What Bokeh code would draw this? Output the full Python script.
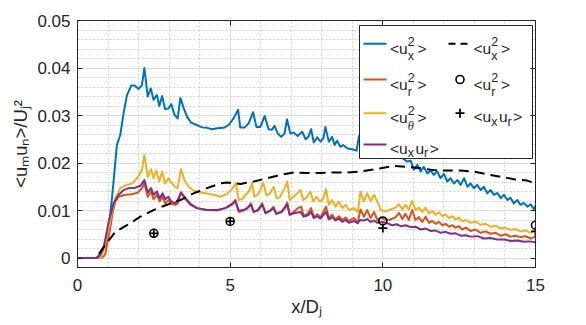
from bokeh.plotting import figure
from bokeh.models import Range1d, FixedTicker, LinearAxis
from bokeh.core.properties import value
from bokeh.embed import file_html
from bokeh.resources import INLINE

# ---------------- data ----------------
x_uxx = [0, 0.6, 0.7, 0.8, 0.96, 1.05, 1.13, 1.24, 1.29, 1.40, 1.51, 1.62, 1.76, 1.87, 2.0, 2.11,
         2.19, 2.30, 2.40, 2.49, 2.60, 2.68, 2.77, 2.87, 2.98, 3.07, 3.18, 3.28, 3.37, 3.48, 3.59,
         3.72, 3.91, 4.08, 4.24, 4.41, 4.57, 4.79, 4.95, 5.11, 5.26, 5.33, 5.48, 5.61, 5.75, 5.86,
         5.99, 6.13, 6.26, 6.37, 6.45, 6.56, 6.67, 6.78, 6.86, 6.97, 7.08, 7.21, 7.36, 7.47, 7.56,
         7.65, 7.74, 7.85, 7.96, 8.05, 8.12, 8.23, 8.34, 8.42, 8.50, 8.61, 8.70, 8.83, 9.0, 9.14,
         9.22, 9.4, 9.7, 10.0, 10.3, 10.6, 10.8, 10.91, 11.02, 11.13, 11.24, 11.34, 11.46, 11.56,
         11.67, 11.78, 11.89, 12.0, 12.11, 12.22, 12.33, 12.44, 12.55, 12.66, 12.77, 12.87, 12.98,
         13.09, 13.2, 13.31, 13.42, 13.53, 13.64, 13.75, 13.86, 13.97, 14.08, 14.18, 14.29, 14.4,
         14.51, 14.62, 14.73, 14.84, 14.95, 15.0]
y_uxx = [0, 0, 0.0005, 0.0017, 0.0034, 0.008, 0.0126, 0.0203, 0.0238, 0.0259, 0.0305, 0.0343,
         0.0363, 0.0363, 0.0356, 0.0364, 0.0400, 0.0340, 0.0357, 0.0333, 0.0343, 0.0320, 0.0341,
         0.0313, 0.0315, 0.0324, 0.0301, 0.0294, 0.0337, 0.0315, 0.0297, 0.0285, 0.0280, 0.0275,
         0.0274, 0.0271, 0.0273, 0.0274, 0.0280, 0.0294, 0.0312, 0.0275, 0.0275, 0.0284, 0.0307,
         0.0276, 0.0276, 0.0299, 0.0271, 0.0270, 0.0278, 0.0262, 0.0255, 0.0262, 0.0292, 0.0262,
         0.0264, 0.0257, 0.0266, 0.0250, 0.0255, 0.0271, 0.0243, 0.0254, 0.0245, 0.0252, 0.0276,
         0.0245, 0.0255, 0.0238, 0.0247, 0.0234, 0.0238, 0.0231, 0.0229, 0.0226, 0.0257, 0.0245,
         0.0238, 0.0232, 0.0222, 0.0212, 0.0203, 0.0205, 0.0186, 0.0196, 0.0182, 0.0192, 0.0178,
         0.0185, 0.0175, 0.0182, 0.0168, 0.0177, 0.0161, 0.0168, 0.0157, 0.0164, 0.0154, 0.0168,
         0.0150, 0.0157, 0.0147, 0.0154, 0.0143, 0.0150, 0.0136, 0.0143, 0.0133, 0.0137, 0.0126,
         0.0133, 0.0122, 0.0127, 0.0115, 0.0122, 0.0112, 0.0116, 0.0108, 0.0113, 0.0103, 0.0110]

x_urr = [0, 0.75, 0.85, 0.91, 1.0, 1.07, 1.15, 1.24, 1.35, 1.56, 1.78, 1.98, 2.11, 2.19, 2.3, 2.41,
         2.49, 2.6, 2.69, 2.79, 2.87, 2.98, 3.07, 3.2, 3.28, 3.39, 3.5, 3.7, 3.91, 4.24, 4.57, 4.84,
         5.06, 5.17, 5.28, 5.44, 5.55, 5.68, 5.77, 5.9, 6.05, 6.16, 6.3, 6.42, 6.51, 6.7, 6.87,
         6.95, 7.08, 7.21, 7.33, 7.41, 7.55, 7.65, 7.74, 7.85, 7.96, 8.14, 8.23, 8.34, 8.45, 8.56,
         8.67, 8.78, 8.89, 9.05, 9.18, 9.27, 9.38, 9.49, 9.6, 9.71, 9.82, 9.95, 10.09, 10.25,
         10.42, 10.53, 10.64, 10.74, 10.85, 10.96, 11.07, 11.18, 11.29, 11.4, 11.51, 11.62, 11.73,
         11.84, 11.95, 12.06, 12.17, 12.28, 12.38, 12.49, 12.6, 12.73, 12.87, 13.03, 13.2, 13.36,
         13.53, 13.69, 13.86, 14.02, 14.18, 14.35, 14.51, 14.67, 14.84, 15.0]
y_urr = [0, 0, 0.0003, 0.0008, 0.004, 0.0062, 0.0095, 0.0119, 0.0129, 0.0133, 0.0134, 0.0138,
         0.0147, 0.0157, 0.0129, 0.0140, 0.0124, 0.0133, 0.0119, 0.0129, 0.0115, 0.0122, 0.0114,
         0.0112, 0.0115, 0.0138, 0.0126, 0.0112, 0.0105, 0.0101, 0.0100, 0.0105, 0.0112, 0.0119,
         0.0097, 0.0100, 0.0105, 0.0115, 0.0097, 0.0101, 0.0115, 0.0094, 0.0099, 0.0108, 0.0093,
         0.0098, 0.0117, 0.0091, 0.0097, 0.0105, 0.0108, 0.0088, 0.0094, 0.0105, 0.0086, 0.0092,
         0.0086, 0.0108, 0.0084, 0.0091, 0.0081, 0.0088, 0.0080, 0.0085, 0.0078, 0.0084, 0.0076,
         0.0102, 0.0087, 0.0101, 0.0084, 0.0097, 0.0080, 0.0085, 0.0080, 0.0081, 0.0086, 0.0095,
         0.0082, 0.0093, 0.0080, 0.0101, 0.0080, 0.0086, 0.0076, 0.0087, 0.0074, 0.0078, 0.0072,
         0.0076, 0.0069, 0.0072, 0.0066, 0.0069, 0.0064, 0.0067, 0.0060, 0.0064, 0.0057, 0.0060,
         0.0053, 0.0056, 0.0051, 0.0053, 0.0047, 0.0050, 0.0045, 0.0047, 0.0044, 0.0046, 0.0041,
         0.0045]

x_utt = [0, 0.75, 0.8, 0.9, 1.02, 1.12, 1.24, 1.4, 1.62, 1.78, 1.95, 2.11, 2.19, 2.3, 2.41, 2.49,
         2.58, 2.68, 2.77, 2.87, 2.98, 3.07, 3.18, 3.28, 3.39, 3.5, 3.64, 3.8, 4.02, 4.24, 4.46,
         4.68, 4.9, 5.06, 5.19, 5.28, 5.39, 5.5, 5.61, 5.72, 5.79, 5.9, 5.99, 6.08, 6.19, 6.3,
         6.43, 6.52, 6.63, 6.75, 6.87, 6.95, 7.08, 7.19, 7.3, 7.39, 7.5, 7.63, 7.72, 7.83, 7.94,
         8.04, 8.14, 8.23, 8.34, 8.45, 8.56, 8.67, 8.78, 8.89, 9.05, 9.18, 9.27, 9.38, 9.49, 9.6,
         9.71, 9.82, 9.93, 10.09, 10.25, 10.42, 10.53, 10.64, 10.74, 10.85, 10.96, 11.07, 11.18,
         11.29, 11.4, 11.51, 11.62, 11.73, 11.84, 11.95, 12.06, 12.17, 12.28, 12.38, 12.49, 12.6,
         12.73, 12.87, 13.03, 13.2, 13.36, 13.53, 13.69, 13.86, 14.02, 14.18, 14.35, 14.51, 14.67,
         14.84, 15.0]
y_utt = [0, 0, 0.0006, 0.003, 0.0062, 0.0095, 0.0126, 0.0147, 0.0154, 0.0157, 0.0168, 0.0185,
         0.0217, 0.0171, 0.0187, 0.0168, 0.0184, 0.0161, 0.0182, 0.0157, 0.0168, 0.0159, 0.0150,
         0.0147, 0.0187, 0.0164, 0.0150, 0.0142, 0.0138, 0.0136, 0.0133, 0.0129, 0.0135, 0.0145,
         0.0157, 0.0122, 0.0124, 0.0133, 0.0140, 0.0157, 0.0129, 0.0133, 0.0143, 0.0159, 0.0131,
         0.0136, 0.0150, 0.0126, 0.0128, 0.0143, 0.0161, 0.0122, 0.0129, 0.0136, 0.0143, 0.0122,
         0.0127, 0.0140, 0.0119, 0.0129, 0.0119, 0.0124, 0.0145, 0.0112, 0.0122, 0.0108, 0.0119,
         0.0105, 0.0112, 0.0101, 0.0105, 0.0097, 0.0140, 0.0119, 0.0136, 0.0119, 0.0133, 0.0119,
         0.0101, 0.0098, 0.0102, 0.0106, 0.0113, 0.0102, 0.0112, 0.0102, 0.0120, 0.0101, 0.0106,
         0.0097, 0.0106, 0.0094, 0.0099, 0.0091, 0.0096, 0.0088, 0.0092, 0.0084, 0.0088, 0.0081,
         0.0085, 0.0077, 0.0080, 0.0074, 0.0077, 0.0070, 0.0072, 0.0066, 0.0068, 0.0062, 0.0064,
         0.0059, 0.0061, 0.0056, 0.0058, 0.0053, 0.0058]

x_uxr = [0, 0.65, 0.74, 0.85, 1.02, 1.18, 1.35, 1.51, 1.67, 1.89, 2.06, 2.19, 2.3, 2.41, 2.49, 2.6,
         2.69, 2.79, 2.87, 2.98, 3.07, 3.2, 3.28, 3.39, 3.5, 3.7, 3.91, 4.24, 4.57, 4.84, 5.06,
         5.17, 5.28, 5.44, 5.55, 5.68, 5.77, 5.9, 6.05, 6.16, 6.3, 6.42, 6.51, 6.7, 6.87, 6.95,
         7.08, 7.3, 7.41, 7.55, 7.65, 7.74, 7.85, 7.96, 8.14, 8.23, 8.34, 8.45, 8.56, 8.67, 8.78,
         8.89, 9.05, 9.18, 9.25, 9.38, 9.49, 9.6, 9.71, 9.82, 9.98, 10.15, 10.31, 10.45, 10.58,
         10.75, 10.91, 11.07, 11.24, 11.4, 11.56, 11.72, 11.89, 12.05, 12.22, 12.38, 12.55, 12.71,
         12.87, 13.1, 13.31, 13.53, 13.75, 13.97, 14.18, 14.4, 14.62, 14.8, 15.0]
y_uxr = [0, 0, 0.0006, 0.002, 0.0076, 0.0115, 0.0133, 0.0143, 0.0147, 0.0148, 0.0152, 0.0164,
         0.0138, 0.0147, 0.0133, 0.0140, 0.0126, 0.0136, 0.0124, 0.0129, 0.0119, 0.0115, 0.0122,
         0.0138, 0.0129, 0.0114, 0.0105, 0.0101, 0.0101, 0.0105, 0.0114, 0.0122, 0.0100, 0.0101,
         0.0104, 0.0112, 0.0097, 0.0100, 0.0112, 0.0095, 0.0099, 0.0105, 0.0093, 0.0098, 0.0112,
         0.0091, 0.0094, 0.0097, 0.0087, 0.0090, 0.0097, 0.0084, 0.0088, 0.0083, 0.0097, 0.0081,
         0.0086, 0.0079, 0.0083, 0.0076, 0.0080, 0.0074, 0.0078, 0.0073, 0.0080, 0.0079, 0.0082,
         0.0076, 0.0079, 0.0074, 0.0076, 0.0073, 0.0069, 0.0071, 0.0067, 0.0069, 0.0065, 0.0066,
         0.0060, 0.0062, 0.0057, 0.0058, 0.0053, 0.0055, 0.0051, 0.0052, 0.0047, 0.0048, 0.0045,
         0.0046, 0.0041, 0.0042, 0.0039, 0.0039, 0.0036, 0.0037, 0.0034, 0.0035, 0.0033]

x_uxx_ref = [0.7, 1.07, 1.24, 1.62, 2.06, 2.49, 2.93, 3.37, 3.8, 4.24, 4.68, 4.9, 5.33, 5.77, 6.21,
             6.65, 7.08, 7.52, 7.96, 8.39, 8.83, 9.27, 9.93, 10.37, 10.8, 11.24, 11.67, 12.11,
             12.55, 12.98, 13.42, 13.86, 14.29, 14.73, 15.0]
y_uxx_ref = [0.0009, 0.0041, 0.0055, 0.0069, 0.0087, 0.0101, 0.0112, 0.0122, 0.0136, 0.0147,
             0.0157, 0.0159, 0.0156, 0.0161, 0.0168, 0.0175, 0.0180, 0.0179, 0.0179, 0.0180,
             0.0180, 0.0182, 0.0189, 0.0194, 0.0192, 0.0189, 0.0185, 0.0184, 0.0184, 0.0182,
             0.0176, 0.0171, 0.0166, 0.0163, 0.0157]

x_urr_ref = [2.5, 5, 10, 15]
y_urr_ref = [0.0052, 0.0077, 0.0078, 0.0069]
x_uxr_ref = [2.5, 5, 10, 15]
y_uxr_ref = [0.0052, 0.0077, 0.0063, 0.0056]

x_ticks = [0, 5, 10, 15]
x_tick_labels = ["0", "5", "10", "15"]
x_minor = [1, 2, 3, 4, 6, 7, 8, 9, 11, 12, 13, 14]
y_ticks = [0.0, 0.01, 0.02, 0.03, 0.04, 0.05]
y_tick_labels = ["0", "0.01", "0.02", "0.03", "0.04", "0.05"]
y_minor = [-0.002, 0.002, 0.004, 0.006, 0.008, 0.012, 0.014, 0.016, 0.018, 0.022, 0.024,
           0.026, 0.028, 0.032, 0.034, 0.036, 0.038, 0.042, 0.044, 0.046, 0.048]

x_title = "x/Dⱼ"
y_title = "<uₘuₙ>/Uⱼ²"

C_BLUE, C_RED, C_YEL, C_PUR = "#0072BD", "#D95319", "#EDB120", "#7E2F8E"
AX = "#262626"
FONT = "Liberation Sans"

# ---------------- figure ----------------
FW, FH = 458, 247
p = figure(x_range=Range1d(0, 15), y_range=Range1d(-0.002, 0.05),
           frame_width=FW, frame_height=FH,
           min_border_left=77, min_border_top=20, min_border_right=30, min_border_bottom=52,
           output_backend="svg", toolbar_location=None,
           background_fill_color="white", border_fill_color="white")
p.outline_line_color = AX
p.outline_line_width = 1

xt = FixedTicker(ticks=x_ticks, minor_ticks=x_minor)
yt = FixedTicker(ticks=y_ticks, minor_ticks=y_minor)

def style_axis(ax, ticker, labels=None, standoff=5):
    ax.ticker = ticker
    ax.axis_line_color = AX
    ax.major_tick_line_color = AX
    ax.major_tick_in = 5
    ax.major_tick_out = 0
    ax.minor_tick_in = 0
    ax.minor_tick_out = 0
    ax.major_label_standoff = standoff
    if labels is None:
        ax.major_label_text_color = None
        ax.major_label_text_font_size = "1px"
    else:
        ax.major_label_overrides = labels
        ax.major_label_text_color = AX
        ax.major_label_text_font = FONT
        ax.major_label_text_font_size = "17px"

bottom_ax = p.xaxis[0]
left_ax = p.yaxis[0]
style_axis(bottom_ax, xt, dict(zip(x_ticks, x_tick_labels)), standoff=11)
style_axis(left_ax, yt, dict(zip(y_ticks, y_tick_labels)), standoff=7)
top_ax = LinearAxis()
right_ax = LinearAxis()
style_axis(top_ax, xt)
style_axis(right_ax, yt)
p.add_layout(top_ax, "above")
p.add_layout(right_ax, "right")

for ax, t, st in ((bottom_ax, x_title, 2), (left_ax, y_title, 3)):
    ax.axis_label = t
    ax.axis_label_text_font = FONT
    ax.axis_label_text_font_size = "18.5px"
    ax.axis_label_text_font_style = "normal"
    ax.axis_label_text_color = AX
    ax.axis_label_standoff = st

for g, t in ((p.xgrid[0], xt), (p.ygrid[0], yt)):
    g.ticker = t
    g.grid_line_color = "#dcdcdc"
    g.grid_line_width = 1
    g.minor_grid_line_color = "#cfcfcf"
    g.minor_grid_line_dash = "2 2"
    g.minor_grid_line_width = 1

# ---------------- data marks ----------------
lw = 2
p.line(x_uxx, y_uxx, line_color=C_BLUE, line_width=lw, line_join="round")
p.line(x_urr, y_urr, line_color=C_RED, line_width=lw, line_join="round")
p.line(x_utt, y_utt, line_color=C_YEL, line_width=lw, line_join="round")
p.line(x_uxr, y_uxr, line_color=C_PUR, line_width=lw, line_join="round")
p.line(x_uxx_ref, y_uxx_ref, line_color="black", line_width=2, line_dash="10 6")
p.scatter(x_urr_ref, y_urr_ref, marker="circle", size=8, fill_color=None,
          line_color="black", line_width=1.6)
p.scatter(x_uxr_ref, y_uxr_ref, marker="cross", size=9, line_color="black", line_width=1.8)

# ---------------- legend (frame pixel coordinates, y upward) ----------------
p.extra_x_ranges = {"px": Range1d(0, FW)}
p.extra_y_ranges = {"py": Range1d(0, FH)}
R = dict(x_range_name="px", y_range_name="py")
p.quad(left=[282], right=[455], bottom=[109], top=[242], fill_color="white",
       line_color=AX, line_width=1, **R)

rows = [223.7, 188.0, 154.3, 123.0]
c1_line = (286, 309)
c2_line = (371, 394)
c2_mark = 382.5
p.line(list(c1_line), [rows[0]] * 2, line_color=C_BLUE, line_width=2, **R)
p.line(list(c1_line), [rows[1]] * 2, line_color=C_RED, line_width=2, **R)
p.line(list(c1_line), [rows[2]] * 2, line_color=C_YEL, line_width=2, **R)
p.line(list(c1_line), [rows[3]] * 2, line_color=C_PUR, line_width=2, **R)
p.line(list(c2_line), [rows[0]] * 2, line_color="black", line_width=2, line_dash="7 5", **R)
p.scatter([c2_mark], [rows[1]], marker="circle", size=8, fill_color=None,
          line_color="black", line_width=1.6, **R)
p.scatter([c2_mark], [rows[2]], marker="cross", size=9, line_color="black", line_width=1.8, **R)

WID = {'<': 0.584, '>': 0.584, 'u': 0.556, 'x': 0.5, 'r': 0.333, '2': 0.556, 'm': 0.833,
       'n': 0.556, '/': 0.278, 'U': 0.722, 'D': 0.722, 'j': 0.222, 'θ': 0.5}

def tw(s, size):
    return sum(WID.get(c, 0.55) for c in s) * size

MAIN, SCR = 15.5, 12.5

def legend_text(x0, yc, pieces, compact=False):
    out = []
    x = x0
    base = yc - (3.5 if compact else 4.7)
    sup_b = yc + 2.3
    sub_b = yc - (8.5 if compact else 12.5)
    for txt, role in pieces:
        if role == "m":
            out.append((x, base, txt, MAIN, FONT, "normal"))
            x += tw(txt, MAIN)
        elif role == "sub":
            out.append((x, sub_b, txt, SCR, FONT, "normal"))
            x += tw(txt, SCR) + 1.5
        else:  # stacked superscript / subscript
            sup, sub = txt
            out.append((x, sup_b, sup, SCR, FONT, "normal"))
            theta = sub == "θ"
            out.append((x, sub_b, sub, SCR, "Liberation Serif" if theta else FONT,
                        "italic" if theta else "normal"))
            x += max(tw(sup, SCR), tw(sub, SCR)) + 3
    return out

items = [
    (312.5, rows[0], [("<u", "m"), (("2", "x"), "ss"), (">", "m")], False),
    (312.5, rows[1], [("<u", "m"), (("2", "r"), "ss"), (">", "m")], False),
    (312.5, rows[2], [("<u", "m"), (("2", "θ"), "ss"), (">", "m")], False),
    (312.5, rows[3], [("<u", "m"), ("x", "sub"), ("u", "m"), ("r", "sub"), (">", "m")], True),
    (396.0, rows[0], [("<u", "m"), (("2", "x"), "ss"), (">", "m")], False),
    (396.0, rows[1], [("<u", "m"), (("2", "r"), "ss"), (">", "m")], False),
    (396.0, rows[2], [("<u", "m"), ("x", "sub"), ("u", "m"), ("r", "sub"), (">", "m")], True),
]
for x0, yc, pieces, compact in items:
    for xx, yy, tt, ss, ff, st in legend_text(x0, yc, pieces, compact):
        p.text(x=[xx], y=[yy], text=[tt], text_font=value(ff), text_font_size=value(f"{ss}px"),
               text_font_style=st, text_color=AX, text_align="left",
               text_baseline="alphabetic", **R)

open("out.html", "w").write(file_html(p, INLINE))
